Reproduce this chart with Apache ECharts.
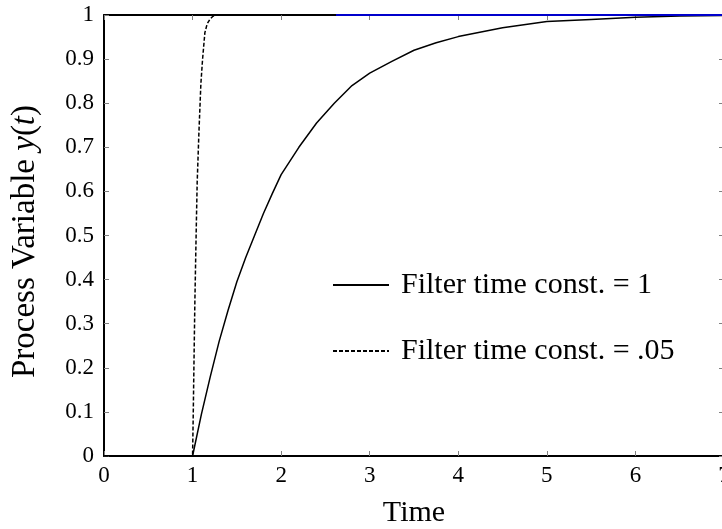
<!DOCTYPE html>
<html>
<head>
<meta charset="utf-8">
<script src="https://cdn.jsdelivr.net/npm/echarts@6/dist/echarts.min.js"></script>
<style>
  html, body { margin: 0; padding: 0; background: #fff; }
  #chart { width: 722px; height: 529px; }
</style>
</head>
<body>
<div id="chart"></div>
<script>
// filter time constant = 1 (solid)
const slowTime = [0, 1.0, 1.1, 1.2, 1.3, 1.4, 1.5, 1.6, 1.7, 1.8, 1.9, 2.0, 2.2, 2.4, 2.6, 2.8, 3.0, 3.25, 3.5, 3.75, 4.0, 4.5, 5.0, 5.5, 6.0, 6.5, 7.0];
const slowValue = [0, 0, 0.095, 0.18, 0.26, 0.33, 0.395, 0.45, 0.50, 0.55, 0.595, 0.638, 0.70, 0.755, 0.80, 0.84, 0.868, 0.895, 0.92, 0.937, 0.951, 0.971, 0.985, 0.99, 0.995, 0.998, 0.999];

// filter time constant = .05 (dashed)
const fastTime = [0, 1.0, 1.008, 1.015, 1.026, 1.04, 1.052, 1.071, 1.094, 1.113, 1.139, 1.165, 1.195, 1.23, 1.27, 2.62];
const fastValue = [0, 0, 0.1, 0.2, 0.35, 0.5, 0.62, 0.73, 0.845, 0.9, 0.96, 0.98, 0.99, 0.997, 1, 1];

// setpoint segment visible at the top (blue)
const setTime = [2.62, 7];
const setValue = [1, 1];

const xTicks = [0, 7, 1];      // min, max, interval
const yTicks = [0, 1, 0.1];

const zip = (xs, ys) => xs.map((x, i) => [x, ys[i]]);

const serif = '"Liberation Serif", "Times New Roman", serif';
const tickStyle = { show: true, inside: true, length: 5, lineStyle: { color: '#808080', width: 1 } };
const frameLine = { show: true, onZero: false, lineStyle: { color: '#000', width: 2 } };

const chart = echarts.init(document.getElementById('chart'), null, { renderer: 'canvas' });
chart.setOption({
  animation: false,
  backgroundColor: '#fff',
  grid: { left: 104, top: 15, right: -2, bottom: 73, containLabel: false, outerBoundsMode: 'none' },
  legend: {
    orient: 'vertical',
    left: 332,
    top: 270,
    padding: 0,
    itemWidth: 56,
    itemHeight: 30,
    itemGap: 36,
    itemStyle: { opacity: 0 },
    textStyle: { fontFamily: serif, fontSize: 30, color: '#000', padding: [0, 0, 0, 7] },
    data: ['Filter time const. = 1', 'Filter time const. = .05']
  },
  xAxis: [{
    type: 'value',
    min: xTicks[0], max: xTicks[1], interval: xTicks[2],
    name: 'Time',
    nameLocation: 'middle',
    nameGap: 42,
    nameTextStyle: { fontFamily: serif, fontSize: 30, color: '#000' },
    axisLine: frameLine,
    axisTick: tickStyle,
    axisLabel: { fontFamily: serif, fontSize: 23, color: '#000', margin: 8 },
    splitLine: { show: false }
  }, {
    type: 'value', position: 'top',
    min: xTicks[0], max: xTicks[1], interval: xTicks[2],
    axisLine: frameLine,
    axisTick: tickStyle,
    axisLabel: { show: false },
    splitLine: { show: false }
  }],
  yAxis: [{
    type: 'value',
    min: yTicks[0], max: yTicks[1], interval: yTicks[2],
    name: 'Process Variable {i|y}({i|t})',
    nameLocation: 'middle',
    nameGap: 62,
    nameTextStyle: {
      fontFamily: serif, fontSize: 33, color: '#000', padding: [0, 12, 0, 0],
      rich: { i: { fontFamily: serif, fontSize: 33, fontStyle: 'italic', color: '#000' } }
    },
    axisLine: frameLine,
    axisTick: tickStyle,
    axisLabel: { fontFamily: serif, fontSize: 23, color: '#000', margin: 10 },
    splitLine: { show: false }
  }, {
    type: 'value', position: 'right',
    min: yTicks[0], max: yTicks[1], interval: yTicks[2],
    axisLine: { show: false, onZero: false },
    axisTick: tickStyle,
    axisLabel: { show: false },
    splitLine: { show: false }
  }],
  series: [{
    name: 'Filter time const. = 1',
    type: 'line',
    data: zip(slowTime, slowValue),
    symbol: 'none',
    lineStyle: { color: '#000', width: 1.5, type: 'solid' },
    itemStyle: { color: '#000' },
    z: 3
  }, {
    name: 'Filter time const. = .05',
    type: 'line',
    data: zip(fastTime, fastValue),
    symbol: 'none',
    lineStyle: { color: '#000', width: 1.5, type: [4, 2] },
    itemStyle: { color: '#000' },
    z: 3
  }, {
    name: 'setpoint',
    type: 'line',
    data: zip(setTime, setValue),
    symbol: 'none',
    lineStyle: { color: '#0000cc', width: 2 },
    z: 4
  }]
});
</script>
</body>
</html>
